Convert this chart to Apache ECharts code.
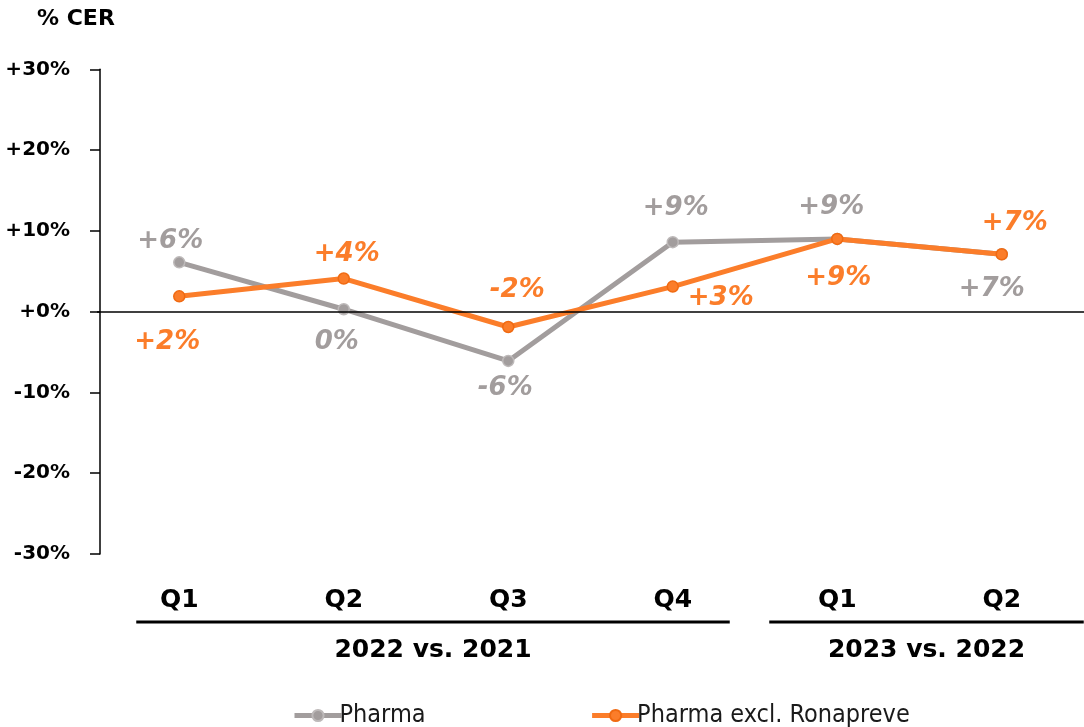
<!DOCTYPE html>
<html>
<head>
<meta charset="utf-8">
<script src="https://cdn.jsdelivr.net/npm/echarts@6/dist/echarts.min.js"></script>
<style>
  html, body { margin: 0; padding: 0; background: #ffffff; }
  #chart { width: 1084px; height: 727px; }
</style>
</head>
<body>
<div id="chart"></div>
<script>
// Quarterly growth at constant exchange rates, %
const quarters = ['Q1', 'Q2', 'Q3', 'Q4', 'Q1', 'Q2'];
const pharma = [6.1, 0.3, -6.1, 8.6, 9.0, 7.1];
const pharmaExclRonapreve = [1.9, 4.1, -1.9, 3.1, 9.0, 7.1];
const seriesNames = ['Pharma', 'Pharma excl. Ronapreve'];
const periodGroups = ['2022 vs. 2021', '2023 vs. 2022'];
const periodSpans = [[0, 3], [4, 5]];   // first and last quarter index in each period
const yTicks = [-30, -20, -10, 0, 10, 20, 30];

// Layout: where each value label sits relative to its point (px)
const pharmaLabelOffsets = [[-9, -21], [-7, 33], [-3, 27], [3, -34], [-6, -32], [-10, 35]];
const exclLabelOffsets = [[-12, 46], [3, -24], [9, -37], [48, 12], [1, 39], [13, -31]];
const periodLinePad = [[-43, 57], [-68, 82]];

const GRAY = '#a29d9d';
const ORANGE = '#fb7d2a';
const AXIS_FONT = "'DejaVu Sans', 'Liberation Sans', sans-serif";

function pct(v) {
  const r = Math.round(v);
  if (r === 0) return '0%';
  return (r > 0 ? '+' : '') + r + '%';
}

function labeledPoints(values, offsets, color) {
  return values.map((v, i) => ({
    value: v,
    label: {
      show: true,
      position: 'inside',
      offset: offsets[i],
      formatter: (p) => pct(p.value),
      color: color,
      fontFamily: AXIS_FONT,
      fontWeight: 'bold',
      fontStyle: 'italic',
      fontSize: 26,
      align: 'center',
      verticalAlign: 'middle'
    }
  }));
}

const chart = echarts.init(document.getElementById('chart'), null, { renderer: 'canvas' });

const option = {
  animation: false,
  backgroundColor: '#ffffff',
  title: {
    text: '% CER',
    left: 32,
    top: 3,
    textStyle: { fontFamily: AXIS_FONT, fontWeight: 'bold', fontSize: 22, color: '#000' }
  },
  grid: { left: 97, top: 69.3, width: 990, height: 484.7, containLabel: false },
  xAxis: {
    type: 'category',
    data: quarters,
    boundaryGap: true,
    axisLine: { show: false, onZero: false },
    axisTick: { show: false },
    splitLine: { show: false },
    axisLabel: {
      margin: 34,
      color: '#000',
      fontFamily: AXIS_FONT,
      fontWeight: 'bold',
      fontSize: 25
    }
  },
  yAxis: {
    type: 'value',
    min: -30,
    max: 30,
    interval: 10,
    offset: -3,
    axisLine: { show: true, lineStyle: { color: '#000', width: 1.5 } },
    axisTick: { show: true, length: 10, lineStyle: { color: '#000', width: 1.5 } },
    splitLine: { show: false },
    axisLabel: {
      margin: 30,
      color: '#000',
      fontFamily: AXIS_FONT,
      fontWeight: 'bold',
      fontSize: 20,
      formatter: (v) => (yTicks.indexOf(v) >= 0 ? (v >= 0 ? '+' : '') + v + '%' : '')
    }
  },
  legend: {
    left: 287,
    top: 698,
    itemWidth: 47,
    itemHeight: 14,
    itemGap: 164,
    data: seriesNames,
    lineStyle: { width: 5 },
    textStyle: {
      fontFamily: "'Liberation Sans Narrow', 'DejaVu Sans Condensed', 'Roboto', sans-serif",
      fontSize: 25,
      fontWeight: 300,
      color: '#1a1a1a',
      padding: [0, 0, 0, -7]
    }
  },
  series: [
    {
      name: seriesNames[0],
      type: 'line',
      z: 2,
      data: labeledPoints(pharma, pharmaLabelOffsets, GRAY),
      symbol: 'circle',
      symbolSize: 11,
      lineStyle: { color: GRAY, width: 5 },
      itemStyle: { color: GRAY, borderColor: '#bdb9b9', borderWidth: 1.5 },
      markLine: {
        silent: true,
        symbol: 'none',
        label: { show: false },
        lineStyle: { color: '#000', width: 1.5, type: 'solid' },
        data: [{ yAxis: 0 }]
      }
    },
    {
      name: seriesNames[1],
      type: 'line',
      z: 3,
      data: labeledPoints(pharmaExclRonapreve, exclLabelOffsets, ORANGE),
      symbol: 'circle',
      symbolSize: 11,
      lineStyle: { color: ORANGE, width: 5 },
      itemStyle: { color: ORANGE, borderColor: '#f06a12', borderWidth: 1.5 }
    }
  ]
};

chart.setOption(option);

// Period brackets under the quarter labels, placed from the category axis
const graphics = [];
periodSpans.forEach((span, g) => {
  const x0 = chart.convertToPixel({ xAxisIndex: 0 }, span[0]) + periodLinePad[g][0];
  const x1 = chart.convertToPixel({ xAxisIndex: 0 }, span[1]) + periodLinePad[g][1];
  graphics.push({
    type: 'line',
    shape: { x1: x0, y1: 622, x2: x1, y2: 622 },
    style: { stroke: '#000', lineWidth: 3 },
    silent: true
  });
  graphics.push({
    type: 'text',
    x: (x0 + x1) / 2,
    y: 650,
    style: {
      text: periodGroups[g],
      fill: '#000',
      font: 'bold 25px ' + AXIS_FONT,
      align: 'center',
      verticalAlign: 'middle'
    },
    silent: true
  });
});
chart.setOption({ graphic: graphics });
</script>
</body>
</html>
